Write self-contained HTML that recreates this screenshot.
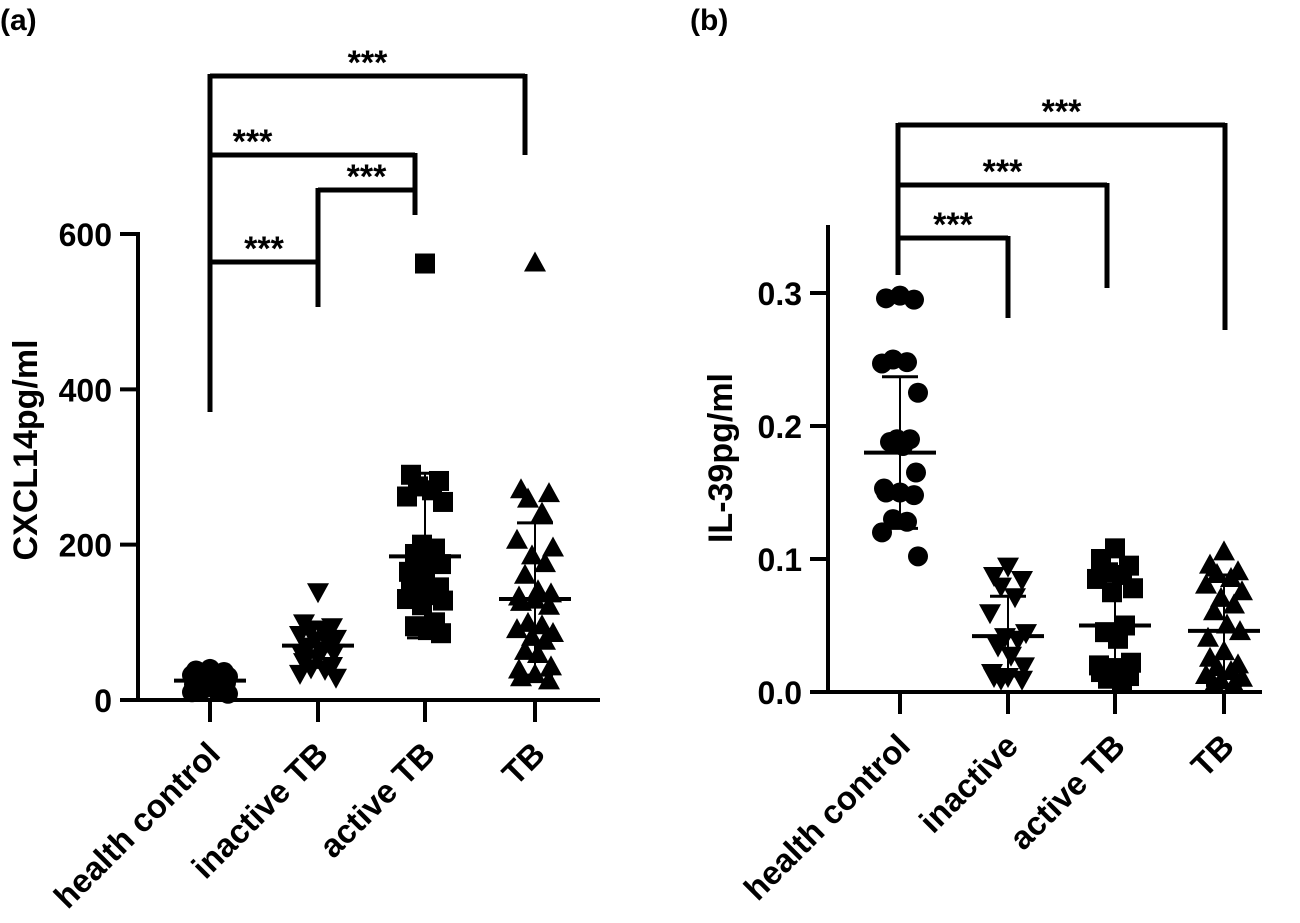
<!DOCTYPE html>
<html><head><meta charset="utf-8"><style>
html,body{margin:0;padding:0;background:#fff;}
svg{display:block;font-family:"Liberation Sans",Arial,sans-serif;font-weight:bold;}
</style></head><body>
<svg id="s" width="1300" height="923" viewBox="0 0 1300 923"></svg>
<script>
const categoriesA = ["health control","inactive TB","active TB","TB"];
const categoriesB = ["health control","inactive","active TB","TB"];
const ticksA = [0,200,400,600];
const ticksB = [0.0,0.1,0.2,0.3];
const hcA = [40,38,36,35,33,32,30,28,27,25,24,22,20,18,16,15,14,12,10,8];
const inactA = [140,100,95,92,90,85,80,78,75,70,65,62,60,55,50,45,42,40,35,30];
const actA = [562,290,282,275,270,262,255,200,195,188,182,175,165,158,152,145,140,135,130,128,122,100,95,90,86];
const tbA = [562,270,265,258,240,205,195,185,175,160,140,136,132,128,125,120,98,95,90,85,80,75,62,58,42,38,32,28,24];
const meanA = [25,70,185,130];
const sdA = [[18,32],[42,100],[80,292],[32,228]];
const hcB = [0.298,0.296,0.295,0.25,0.248,0.247,0.225,0.19,0.19,0.188,0.185,0.165,0.153,0.15,0.15,0.148,0.13,0.128,0.12,0.102];
const inactB = [0.095,0.088,0.085,0.08,0.072,0.06,0.045,0.042,0.04,0.035,0.028,0.02,0.015,0.012,0.012,0.01,0.01];
const actB = [0.108,0.1,0.095,0.09,0.088,0.085,0.078,0.075,0.05,0.045,0.04,0.022,0.02,0.018,0.015,0.012,0.01,0.008];
const tbB = [0.105,0.095,0.09,0.088,0.085,0.08,0.075,0.07,0.065,0.06,0.05,0.045,0.04,0.03,0.025,0.02,0.018,0.015,0.012,0.01,0.008,0.005,0.005];
const meanB = [0.18,0.042,0.05,0.046];
const sdB = [[0.123,0.237],[0.012,0.072],[0.01,0.09],[0.005,0.088]];

const NS="http://www.w3.org/2000/svg";
const svg=document.getElementById('s');
function mk(tag,attrs,parent){const e=document.createElementNS(NS,tag);for(const k in attrs)e.setAttribute(k,attrs[k]);(parent||svg).appendChild(e);return e;}
function line(x1,y1,x2,y2,w,name){const e=mk('line',{x1,y1,x2,y2,stroke:'#000','stroke-width':w});


return e;}
function text(x,y,s,size,name,extra){const e=mk('text',Object.assign({x,y,'font-size':size,fill:'#000'},extra||{}));e.textContent=s;


return e;}
const jit=[0,-14,14,-7,7,-18,18,-3,10,-10,3,16,-16];
function marker(shape,x,y,name){let e;const r=10;
if(shape==='circle')e=mk('circle',{cx:x,cy:y,r:r,fill:'#000'});
else if(shape==='square')e=mk('rect',{x:x-r,y:y-r,width:2*r,height:2*r,fill:'#000'});
else if(shape==='tri')e=mk('polygon',{points:`${x},${y-r-2} ${x-r-1},${y+r-2} ${x+r+1},${y+r-2}`,fill:'#000'});
else e=mk('polygon',{points:`${x},${y+r+2} ${x-r-1},${y-r+2} ${x+r+1},${y-r+2}`,fill:'#000'});


}
function panel(P){
 const ys=v=>P.y0-(v-P.vmin)/(P.vmax-P.vmin)*(P.y0-P.y1);
 line(P.ax,P.top,P.ax,P.y0+2,4,'y-axis-line');
 line(P.ax-2,P.y0,P.xend,P.y0,4,'x-axis-line');
 P.ticks.forEach((t,i)=>{const y=ys(t);line(P.ax-18,y,P.ax,y,4,'y-tick');
  text(P.ax-26,y+12,P.fmt(t),32,'y-tick-label',{'text-anchor':'end'});});
 text(0,0,P.title,34,'y-axis-title',{'text-anchor':'middle',transform:`translate(${P.tx},${P.tcy}) rotate(-90)`});
 P.cats.forEach((c,i)=>{const x=P.cx[i];line(x,P.y0,x,P.y0+22,4,'x-tick');
  text(0,0,c,33,'x-tick-label',{'text-anchor':'end',transform:`translate(${x+12},${P.y0+56}) rotate(-45)`});});
 P.series.forEach((s,i)=>{s.forEach((v,j)=>marker(P.shapes[i],P.cx[i]+jit[j%jit.length],ys(v),'data-point'));
  const x=P.cx[i];
  line(x,ys(P.sd[i][0]),x,ys(P.sd[i][1]),2,'error-bar');
  line(x-18,ys(P.sd[i][0]),x+18,ys(P.sd[i][0]),3,'error-cap');
  line(x-18,ys(P.sd[i][1]),x+18,ys(P.sd[i][1]),3,'error-cap');
  line(x-36,ys(P.mean[i]),x+36,ys(P.mean[i]),4,'mean-line');});
 P.br.forEach(b=>{line(b[0],b[2],b[1],b[2],5,'significance-bracket');
  line(b[0],b[2]-2,b[0],b[3],5,'bracket-leg');line(b[1],b[2]-2,b[1],b[4],5,'bracket-leg');
  text((b[0]+b[1])/2+b[5],b[2]-2,'***',34,'significance-stars',{'text-anchor':'middle'});});
}
text(0,30,'(a)',30,'panel-a-label');
text(690,30,'(b)',30,'panel-b-label');
panel({ax:138,top:232,y0:700,y1:234,vmin:0,vmax:600,xend:600,ticks:ticksA,fmt:t=>String(t),title:'CXCL14pg/ml',tx:37,tcy:450,
 cats:categoriesA,cx:[210,318,425,535],series:[hcA,inactA,actA,tbA],shapes:['circle','inv','square','tri'],mean:meanA,sd:sdA,
 br:[[210,525,76,412,155,0],[210,415,155,412,215,-60],[318,415,190,305,215,0],[210,318,262,412,307,0]]});
panel({ax:828,top:225,y0:692,y1:293,vmin:0,vmax:0.3,xend:1262,ticks:ticksB,fmt:t=>t.toFixed(1),title:'IL-39pg/ml',tx:732,tcy:458,
 cats:categoriesB,cx:[900,1008,1115,1224],series:[hcB,inactB,actB,tbB],shapes:['circle','inv','square','tri'],mean:meanB,sd:sdB,
 br:[[898,1225,125,275,330,0],[898,1107,185,275,288,0],[898,1008,238,275,318,0]]});
</script>
</body></html>
